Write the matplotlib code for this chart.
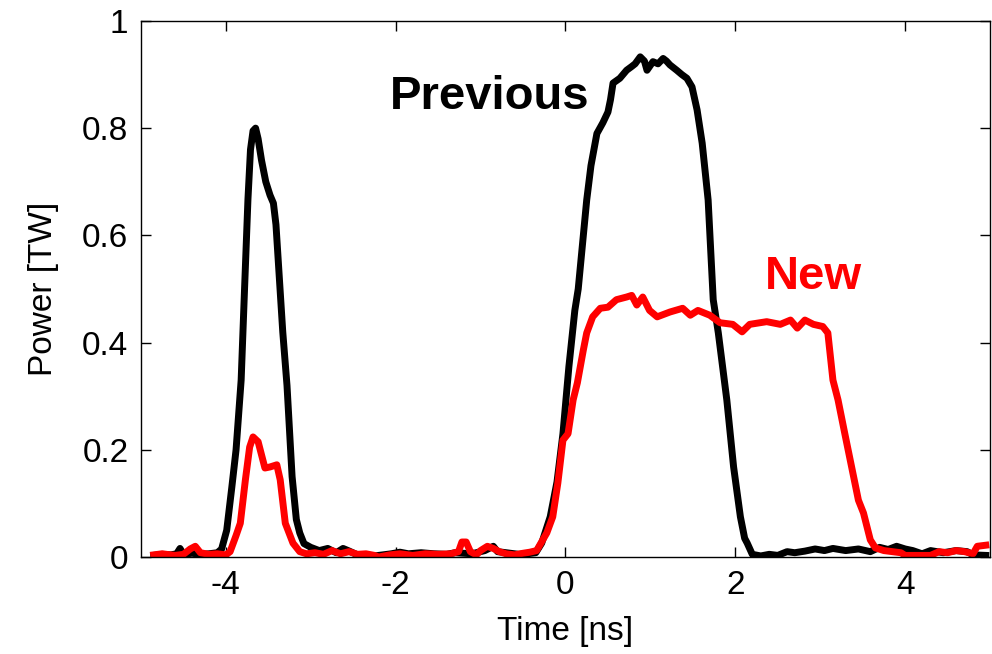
import matplotlib
matplotlib.use("Agg")
import matplotlib.pyplot as plt

plt.rcParams['font.family'] = ['Liberation Sans', 'DejaVu Sans']

# "Previous" pulse (black)
prev_t = [-4.85, -4.75, -4.65, -4.58, -4.54, -4.5, -4.4, -4.3, -4.2, -4.1, -4.05,
          -3.99, -3.93, -3.88, -3.82, -3.78, -3.74, -3.71, -3.68, -3.65, -3.62, -3.58,
          -3.53, -3.48, -3.44, -3.41, -3.37, -3.33, -3.28, -3.22, -3.17, -3.13, -3.08,
          -3.0, -2.9, -2.8, -2.7, -2.62, -2.56, -2.45, -2.35, -2.25,
          -2.05, -1.95, -1.85, -1.7, -1.55, -1.4, -1.3, -1.1, -0.95, -0.85, -0.8, -0.7,
          -0.55, -0.45, -0.35,
          -0.28, -0.18, -0.1, -0.03, 0.04, 0.11, 0.15, 0.25, 0.30, 0.37, 0.44, 0.50,
          0.53, 0.56, 0.64, 0.72, 0.78, 0.82, 0.88, 0.93, 0.96, 1.03, 1.09, 1.15,
          1.19, 1.23, 1.31, 1.37, 1.43, 1.49, 1.55, 1.61, 1.68, 1.74, 1.80, 1.90,
          1.98, 2.06, 2.11, 2.14, 2.2, 2.3, 2.4, 2.5, 2.61, 2.7, 2.82, 2.94, 3.05,
          3.15, 3.3, 3.45, 3.59, 3.7, 3.8, 3.9, 4.0, 4.09, 4.2, 4.3, 4.45, 4.6, 4.73,
          4.8, 4.95]
prev_p = [0.003, 0.005, 0.004, 0.006, 0.016, 0.005, 0.007, 0.005, 0.006, 0.008, 0.015,
          0.05, 0.13, 0.20, 0.33, 0.50, 0.667, 0.76, 0.795, 0.80, 0.78, 0.74,
          0.70, 0.675, 0.66, 0.62, 0.52, 0.42, 0.32, 0.15, 0.07, 0.045, 0.025,
          0.018, 0.012, 0.016, 0.008, 0.016, 0.012, 0.004, 0.003, 0.002,
          0.006, 0.009, 0.006, 0.008, 0.006, 0.005, 0.008, 0.006, 0.012, 0.02, 0.01, 0.008,
          0.005, 0.006, 0.008,
          0.026, 0.075, 0.14, 0.23, 0.355, 0.46, 0.50, 0.666, 0.73, 0.79, 0.81, 0.83,
          0.853, 0.884, 0.893, 0.908, 0.915, 0.92, 0.933, 0.925, 0.908, 0.924, 0.92, 0.93,
          0.925, 0.918, 0.908, 0.90, 0.893, 0.877, 0.834, 0.772, 0.666, 0.48, 0.418, 0.293,
          0.168, 0.075, 0.035, 0.026, 0.005, 0.002, 0.005, 0.003, 0.01, 0.008, 0.011, 0.015, 0.012,
          0.016, 0.012, 0.015, 0.01, 0.018, 0.014, 0.02, 0.015, 0.012, 0.006, 0.012, 0.008, 0.012, 0.01,
          0.004, 0.003]

# "New" pulse (red)
new_t = [-4.85, -4.75, -4.6, -4.5, -4.42, -4.36, -4.3, -4.2, -4.1, -4.0, -3.95,
         -3.88, -3.83, -3.77, -3.72, -3.68, -3.62, -3.54, -3.48, -3.40, -3.36, -3.30,
         -3.21, -3.13, -3.05, -2.95, -2.85, -2.75, -2.65, -2.55, -2.45, -2.35, -2.25, -2.2,
         -2.07, -1.95, -1.8, -1.65, -1.5, -1.35, -1.26, -1.22, -1.17, -1.12, -1.05,
         -1.0, -0.92, -0.85, -0.78, -0.7, -0.6, -0.5, -0.42, -0.34,
         -0.22, -0.15, -0.09, -0.03, 0.03, 0.09, 0.14, 0.21, 0.25, 0.32, 0.41, 0.50,
         0.60, 0.72, 0.78, 0.84, 0.91, 0.99, 1.08, 1.23, 1.38, 1.47, 1.56, 1.70,
         1.82, 1.97, 2.08, 2.17, 2.37, 2.53, 2.65, 2.73, 2.82, 2.92, 3.03, 3.09,
         3.15, 3.21, 3.29, 3.37, 3.45, 3.51, 3.59, 3.65, 3.75, 3.85, 3.95, 4.0,
         4.3, 4.4, 4.5, 4.6, 4.7, 4.8, 4.85, 4.95]
new_p = [0.004, 0.006, 0.003, 0.005, 0.015, 0.02, 0.008, 0.005, 0.006, 0.004, 0.01,
         0.04, 0.063, 0.144, 0.205, 0.224, 0.215, 0.166, 0.168, 0.172, 0.144, 0.063,
         0.026, 0.01, 0.006, 0.008, 0.005, 0.012, 0.006, 0.01, 0.005, 0.006, 0.003, 0.0,
         0.004, 0.006, 0.003, 0.006, 0.005, 0.006, 0.01, 0.028, 0.028, 0.01, 0.004,
         0.012, 0.02, 0.016, 0.01, 0.006, 0.004, 0.007, 0.009, 0.012,
         0.045, 0.075, 0.138, 0.218, 0.23, 0.293, 0.325, 0.386, 0.418, 0.448, 0.464, 0.466,
         0.48, 0.485, 0.488, 0.47, 0.485, 0.46, 0.448, 0.457, 0.464, 0.451, 0.46, 0.451,
         0.437, 0.434, 0.42, 0.434, 0.439, 0.434, 0.442, 0.427, 0.442, 0.434, 0.43, 0.418,
         0.33, 0.293, 0.23, 0.168, 0.106, 0.082, 0.032, 0.017, 0.012, 0.01, 0.008, 0.003,
         0.003, 0.01, 0.008, 0.012, 0.01, 0.006, 0.02, 0.022]

x_ticks = [-4, -2, 0, 2, 4]
y_ticks = [0, 0.2, 0.4, 0.6, 0.8, 1]
y_tick_labels = ['0', '0.2', '0.4', '0.6', '0.8', '1']

fig = plt.figure(figsize=(9.92, 6.54), dpi=100)
ax = fig.add_axes([0.1421, 0.1483, 0.998 - 0.1421, 0.968 - 0.1483])

ax.plot(prev_t, prev_p, color='black', lw=5, solid_joinstyle='round')
ax.plot(new_t, new_p, color='#ff0000', lw=5, solid_joinstyle='round')

ax.set_xlim(-5, 5)
ax.set_ylim(0, 1)
ax.set_xticks(x_ticks)
ax.set_xticklabels([str(v) for v in x_ticks])
ax.set_yticks(y_ticks)
ax.set_yticklabels(y_tick_labels)
ax.tick_params(direction='in', length=7, width=1, top=True, right=True,
               labelsize=24, pad=9)
for s in ax.spines.values():
    s.set_linewidth(1)

ax.set_xlabel('Time [ns]', fontsize=24, labelpad=11)
ax.set_ylabel('Power [TW]', fontsize=24, labelpad=17)

ax.text(-2.07, 0.858, 'Previous', color='black', fontsize=34, fontweight='bold',
        ha='left', va='center')
ax.text(2.35, 0.522, 'New', color='#ff0000', fontsize=34, fontweight='bold',
        ha='left', va='center')

fig.savefig('out.png', dpi=100)
